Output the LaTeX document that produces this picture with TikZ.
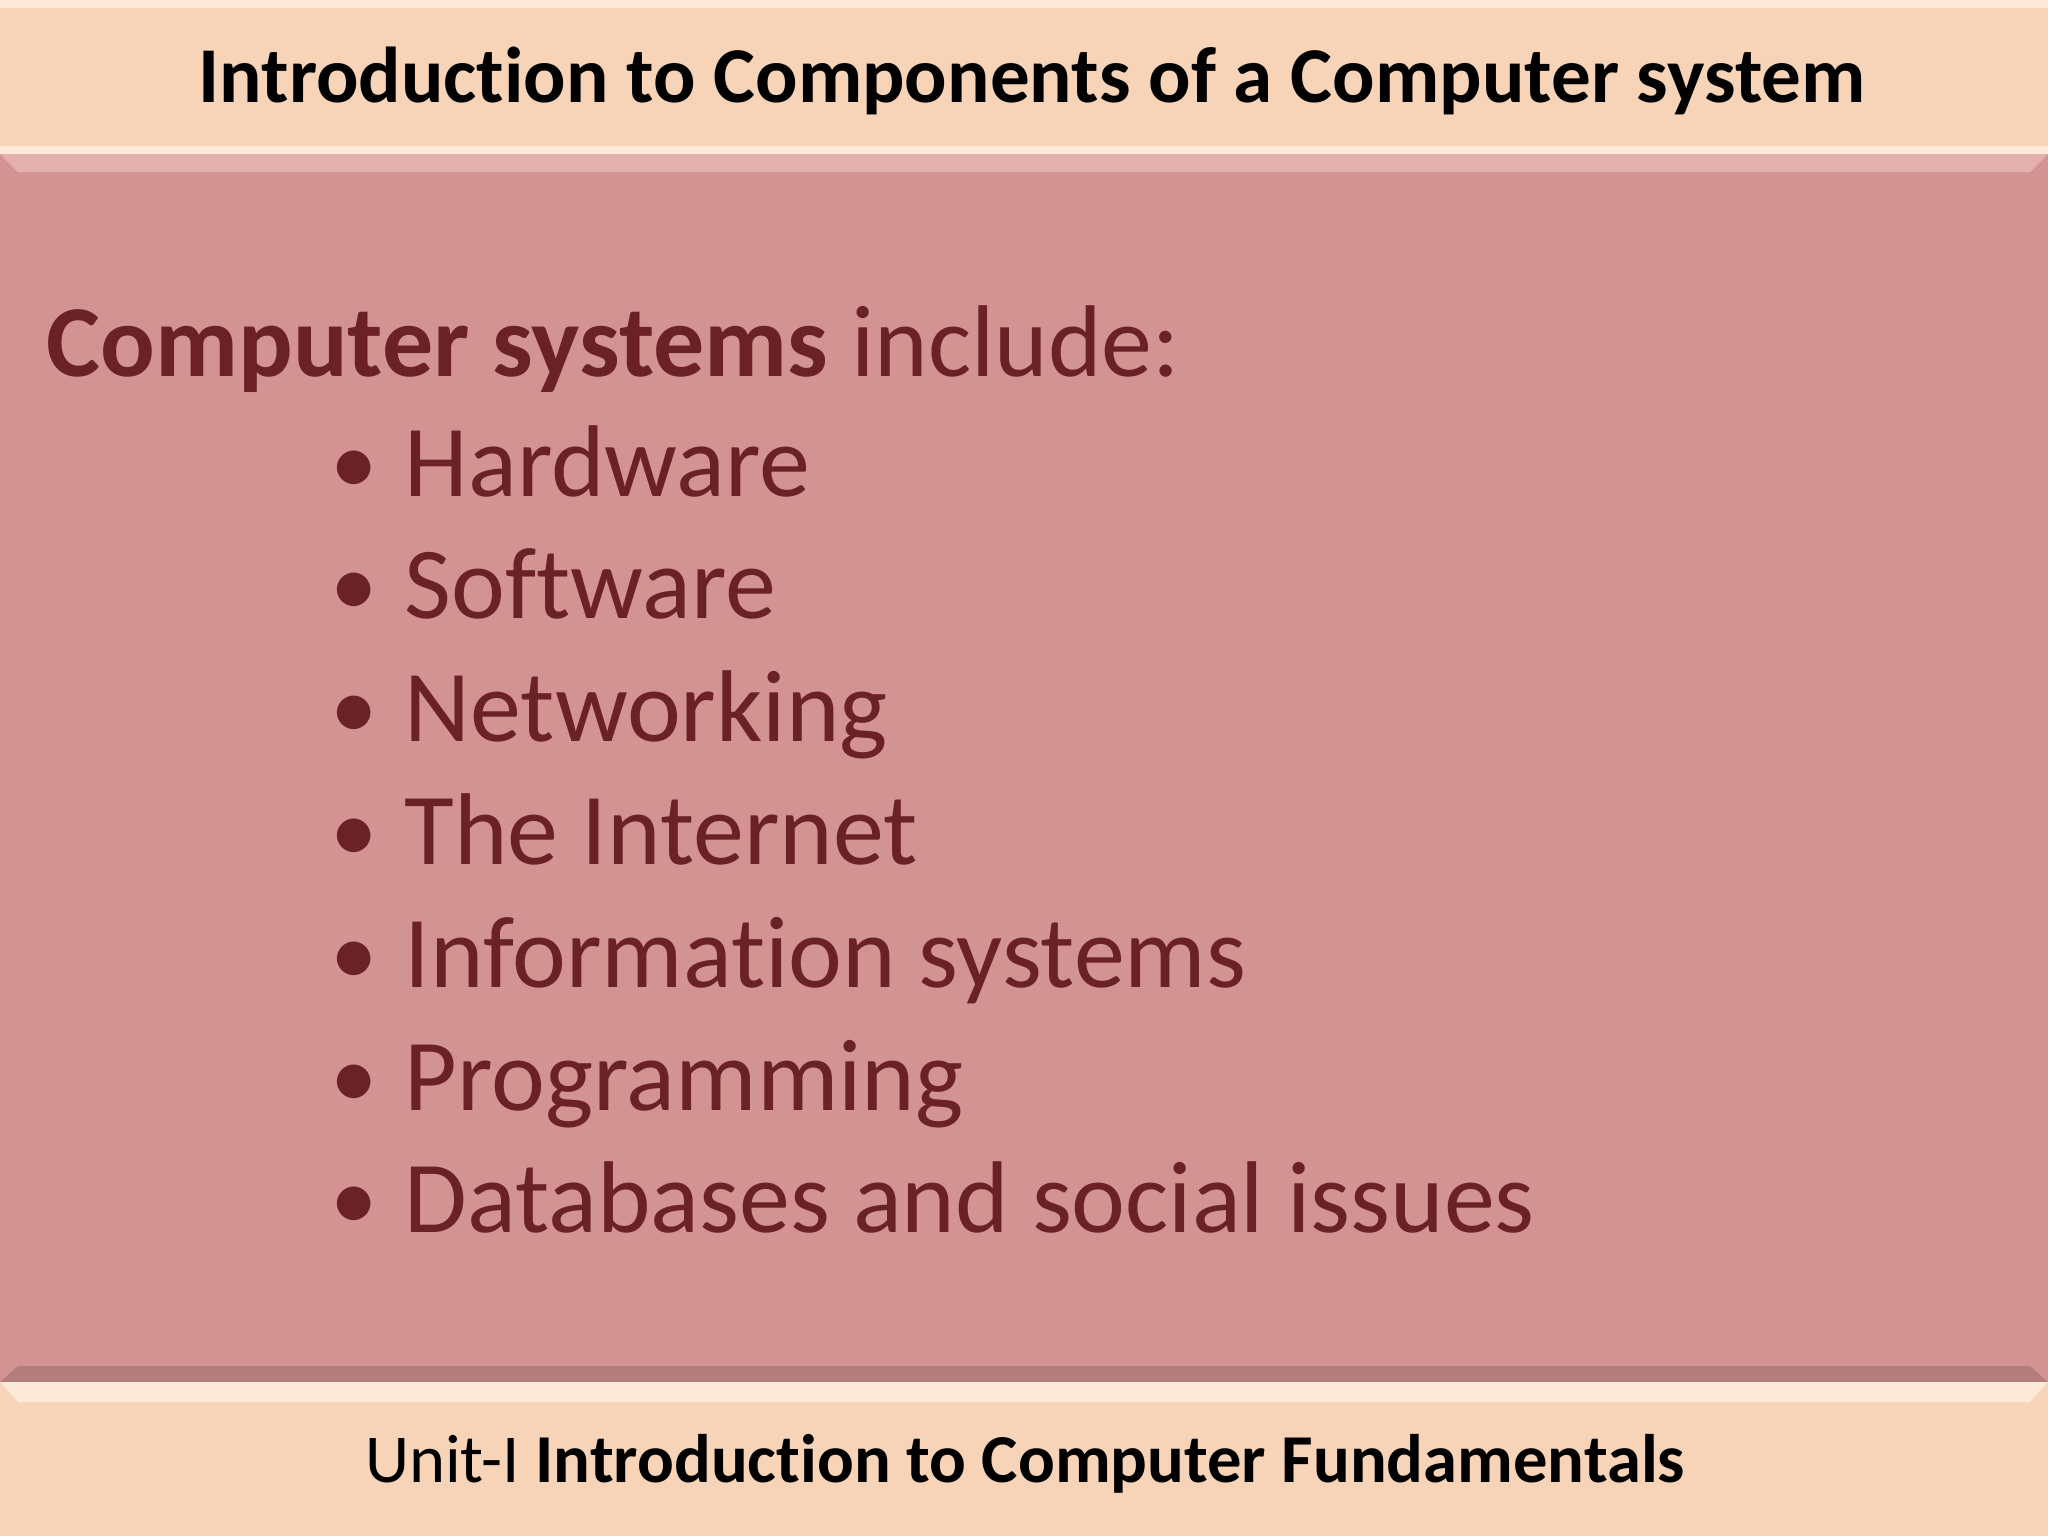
\documentclass[tikz,border=0pt]{standalone}
\usepackage{fontspec}
\setmainfont{Carlito}[Ligatures=NoCommon]
\begin{document}
\begin{tikzpicture}[x=0.01cm,y=-0.01cm,
  txt/.style={text=textred,inner sep=0pt,anchor=base west,font=\fontsize{29}{35}\selectfont},
  dot/.style={text=textred,inner sep=0pt,anchor=base west,font=\fontsize{27}{35}\selectfont}]
\definecolor{peach}{HTML}{F7D3B7}
\definecolor{peachhi}{HTML}{FCE9D8}
\definecolor{rose}{HTML}{D49393}
\definecolor{rosehi}{HTML}{E3AFAF}
\definecolor{textred}{HTML}{6B2226}
\useasboundingbox (0,0) rectangle (2048,1536);
% header
\fill[peach] (0,0) rectangle (2048,154);
\fill[peachhi] (0,0) rectangle (2048,8);
\fill[peachhi] (0,146) rectangle (2048,154);
% main
\fill[rose] (0,154) rectangle (2048,1382);
\fill[rosehi] (0,154) -- (2048,154) -- (2030,172) -- (18,172) -- cycle;
\fill[rose!85!black] (0,1382) -- (2048,1382) -- (2030,1366) -- (18,1366) -- cycle;
% footer
\fill[peach] (0,1382) rectangle (2048,1536);
\fill[peachhi] (0,1382) -- (2048,1382) -- (2030,1402) -- (18,1402) -- cycle;
\node[inner sep=0pt,font=\fontsize{22.5}{27}\selectfont\bfseries] (title) at (1032,81) {Introduction to Components of a Computer system};
\node[txt] (head) at (46,376) {\textbf{Computer systems} include:};
\foreach \t [count=\i] in {Hardware,Software,Networking,The Internet,Information systems,Programming,Databases and social issues}{
  \node[dot] (b\i) at (330,{494+(\i-1)*122.8}) {•};
  \node[txt] (t\i) at (404,{496+(\i-1)*122.8}) {\t};
}
\node[inner sep=0pt,anchor=base,font=\fontsize{19.5}{24}\selectfont] (foot) at (1025,1482) {Unit-I \textbf{Introduction to Computer Fundamentals}};
\end{tikzpicture}
\end{document}
